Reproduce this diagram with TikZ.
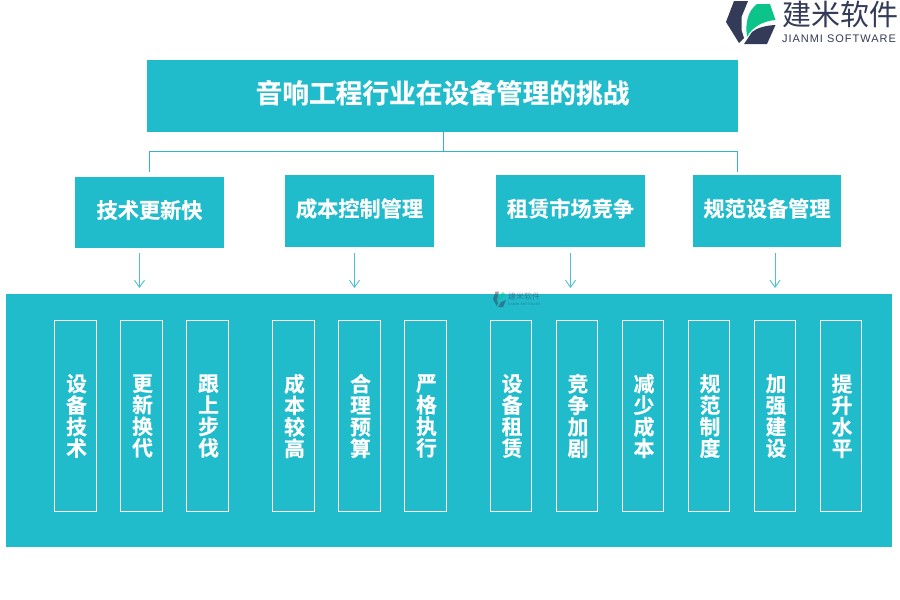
\documentclass[tikz,border=0pt]{standalone}
\usepackage{fontspec}
\setmainfont{Noto Sans CJK SC}[BoldFont={Noto Sans CJK SC Bold},BoldFeatures={FakeBold=0.4}]
\newfontfamily\latinfont{Liberation Sans}[LetterSpace=9]
\usetikzlibrary{arrows.meta}
\definecolor{teal1}{HTML}{20BCCC}
\definecolor{navy}{HTML}{333B58}
\definecolor{lgreen}{HTML}{0CC48A}
\definecolor{linecol}{HTML}{35B4C8}
\definecolor{arrowcol}{HTML}{4DC0D2}
\tikzset{
  x=1pt,y=-1pt,
  box/.style={fill=teal1,draw=none,inner sep=0pt,font=\bfseries\fontsize{21.2}{21}\selectfont,text=white},
  vbox/.style={draw=white,line width=0.8pt,fill=teal1,minimum width=42.2pt,minimum height=191.5pt,inner sep=0pt,text=white,font=\bfseries\fontsize{20.8}{21.5}\selectfont,align=center},
  arrowline/.style={draw=arrowcol,line width=0.9pt,-{Straight Barb[length=7pt,width=10pt,line width=0.9pt]}},
  conn/.style={draw=linecol,line width=0.8pt}
}
\newcommand{\vtext}[4]{\hspace*{2pt}#1\\\hspace*{2pt}#2\\\hspace*{2pt}#3\\\hspace*{2pt}#4}
\newcommand{\up}[2]{\raisebox{#1}{#2}}
\begin{document}
\begin{tikzpicture}
\useasboundingbox (0,0) rectangle (900,600);
\fill[white] (0,0) rectangle (900,600);
% main box
\node[box,minimum width=591pt,minimum height=72pt,font=\bfseries\fontsize{26.7}{27}\selectfont] (top) at (442.5,96) {\up{9pt}{音响工程行业在设备管理的挑战}};
% categories
\node[box,minimum width=149pt,minimum height=71pt] (c1) at (149.5,212.5) {\up{7pt}{技术更新快}};
\node[box,minimum width=149pt,minimum height=72pt] (c2) at (359.5,211) {\up{7pt}{成本控制管理}};
\node[box,minimum width=149pt,minimum height=72pt] (c3) at (570.5,211) {\up{7pt}{租赁市场竞争}};
\node[box,minimum width=148pt,minimum height=72pt] (c4) at (767,211) {\up{7pt}{规范设备管理}};
% tree connector
\coordinate (j) at (443.5,151.5);
\coordinate (l) at (149.5,151.5);
\coordinate (r) at (737.5,151.5);
\coordinate (le) at (149.5,172);
\coordinate (re) at (737.5,172);
\draw[conn] (le) -- (l) -- (r) -- (re);
\draw[conn] (j |- top.south) -- (j);
% panel
\node[fill=teal1,minimum width=886pt,minimum height=253pt,inner sep=0pt] (panel) at (449,420.5) {};
% arrows
\coordinate (a1) at (139.5,253);\coordinate (b1) at (139.5,288);
\coordinate (a2) at (354.5,253);\coordinate (b2) at (354.5,288);
\coordinate (a3) at (570.5,253);\coordinate (b3) at (570.5,288);
\coordinate (a4) at (775,253);\coordinate (b4) at (775,288);
\draw[arrowline] (a1) -- (b1);
\draw[arrowline] (a2) -- (b2);
\draw[arrowline] (a3) -- (b3);
\draw[arrowline] (a4) -- (b4);
% vertical boxes
\node[vbox] (v1) at (75.5,416) {\vtext{设}{备}{技}{术}};
\node[vbox] (v2) at (141.5,416) {\vtext{更}{新}{换}{代}};
\node[vbox] (v3) at (207.5,416) {\vtext{跟}{上}{步}{伐}};
\node[vbox] (v4) at (293.5,416) {\vtext{成}{本}{较}{高}};
\node[vbox] (v5) at (359.5,416) {\vtext{合}{理}{预}{算}};
\node[vbox] (v6) at (425.5,416) {\vtext{严}{格}{执}{行}};
\node[vbox,minimum width=41.5pt] (v7) at (511,416) {\vtext{设}{备}{租}{赁}};
\node[vbox,minimum width=41.5pt] (v8) at (577,416) {\vtext{竞}{争}{加}{剧}};
\node[vbox,minimum width=41.5pt] (v9) at (643,416) {\vtext{减}{少}{成}{本}};
\node[vbox,minimum width=41.5pt] (v10) at (709,416) {\vtext{规}{范}{制}{度}};
\node[vbox,minimum width=41.5pt] (v11) at (775,416) {\vtext{加}{强}{建}{设}};
\node[vbox,minimum width=41.5pt] (v12) at (841,416) {\vtext{提}{升}{水}{平}};
% logo
\fill[navy] (734,1) -- (748,1) -- (741.5,17) -- (741.5,30) -- (744,38) -- (739,43) -- (726,22) -- cycle;
\fill[lgreen] (747,37) .. controls (745,22) and (748,11) .. (757,4) -- (770,4) -- (775.5,20) .. controls (763,21) and (752,27) .. (747,37) -- cycle;
\fill[navy] (744,44) -- (752,32) .. controls (757,28) and (765,25.5) .. (775.5,25) -- (767,44) -- cycle;
\node[inner sep=0pt,text=navy,font=\fontsize{29}{30}\selectfont] (lt) at (840,14) {建米软件};
\node[inner sep=0pt,text=navy,font=\latinfont\fontsize{11}{12}\selectfont] (ls) at (839,38.8) {JIANMI SOFTWARE};
% watermark
\begin{scope}[opacity=0.5]
\fill[navy] (495.5,291.5) -- (499,291.5) -- (497,300) -- (498,304) -- (496.5,306) -- (493,299) -- cycle;
\fill[lgreen] (498,303) .. controls (498,297) and (500,293) .. (503,292) -- (506,295) .. controls (503,297) and (500,299) .. (498,303) -- cycle;
\fill[navy] (498,307) -- (501,302) -- (506,300) -- (503,307) -- cycle;
\node[inner sep=0pt,text=navy,font=\fontsize{8}{8}\selectfont] (wt) at (524,296) {建米软件};
\node[inner sep=0pt,text=navy,font=\latinfont\fontsize{3.2}{4}\selectfont] (ws) at (524,304) {JIANMI SOFTWARE};
\end{scope}
\end{tikzpicture}
\end{document}
